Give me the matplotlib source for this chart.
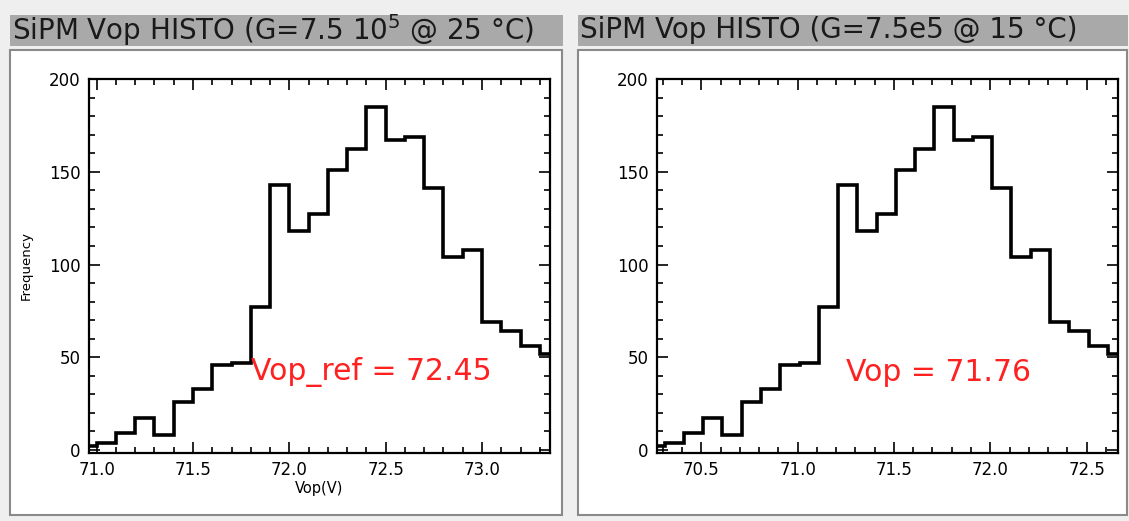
import numpy as np
import matplotlib.pyplot as plt
from matplotlib.patches import Rectangle

# histogram counts, bins 0.1 V wide
counts = [2, 4, 9, 17, 8, 26, 33, 46, 47, 77, 143, 118, 127, 151, 162,
          185, 167, 169, 141, 104, 108, 69, 64, 56, 52]
bin_start = 70.9
bin_width = 0.1

vop_ref = 72.45   # 25 C
vop = 71.76       # 15 C

titles = ["SiPM Vop HISTO (G=7.5 10$^{5}$ @ 25 °C)",
          "SiPM Vop HISTO (G=7.5e5 @ 15 °C)"]
labels = ["Vop_ref = %.2f" % vop_ref, "Vop = %.2f" % vop]
xlims = [(70.96, 73.353), (70.27, 72.663)]
xticks = [[71.0, 71.5, 72.0, 72.5, 73.0], [70.5, 71.0, 71.5, 72.0, 72.5]]
yticks = [0, 50, 100, 150, 200]

edges = bin_start + bin_width * np.arange(len(counts) + 1)
shifts = [0.0, vop - vop_ref]

W, H = 1129, 521
fig = plt.figure(figsize=(W / 100, H / 100), dpi=100)
fig.patch.set_facecolor("#efefef")


def box(x0, y0, x1, y1):
    # pixel box (top-left origin) -> figure fraction
    return [x0 / W, 1 - y1 / H, (x1 - x0) / W, (y1 - y0) / H]


panels = [(10, 562, 89, 550), (578, 1127, 657, 1118)]

for i, (px0, px1, ax0, ax1_) in enumerate(panels):
    # title bar
    l, b, w, h = box(px0, 15, px1 + 1, 46)
    fig.patches.append(Rectangle((l, b), w, h, transform=fig.transFigure,
                                 facecolor="#a9a9a9", edgecolor="none", zorder=-2))
    fig.text(l + 2 / W, b + h / 2, titles[i], fontsize=20, color="#1a1a1a",
             va="center", ha="left")
    # white frame
    l, b, w, h = box(px0, 50, px1, 515)
    fig.patches.append(Rectangle((l, b), w, h, transform=fig.transFigure,
                                 facecolor="white", edgecolor="#8a8a8a", lw=1.5,
                                 zorder=-2))

    ax = fig.add_axes(box(ax0, 79, ax1_, 453))
    ax.set_zorder(2)
    ax.stairs(counts, edges + shifts[i], color="black", lw=2.6, baseline=None)
    ax.set_xticks(xticks[i])
    ax.set_xticklabels(["%.1f" % t for t in xticks[i]])
    ax.set_yticks(yticks)
    ax.set_xticks(np.arange(70.2, 73.5, 0.1), minor=True)
    ax.set_yticks(np.arange(0, 201, 10), minor=True)
    ax.set_xlim(*xlims[i])
    ax.set_ylim(-1.6, 200)
    ax.tick_params(which="both", direction="in", top=True, right=True,
                   width=1.2, labelsize=12, pad=6)
    ax.tick_params(which="major", length=8)
    ax.tick_params(which="minor", length=4.5)
    for s in ax.spines.values():
        s.set_linewidth(1.6)
    ax.text(xlims[i][0] + (0.84 if i == 0 else 0.98), 42, labels[i],
            color="#ff2020", fontsize=21.5, va="center", ha="left")
    if i == 0:
        ax.set_ylabel("Frequency", fontsize=9.5, labelpad=12)
        ax.set_xlabel("Vop(V)", fontsize=10.5, labelpad=1)

fig.savefig("out.png", dpi=100, facecolor=fig.get_facecolor())
